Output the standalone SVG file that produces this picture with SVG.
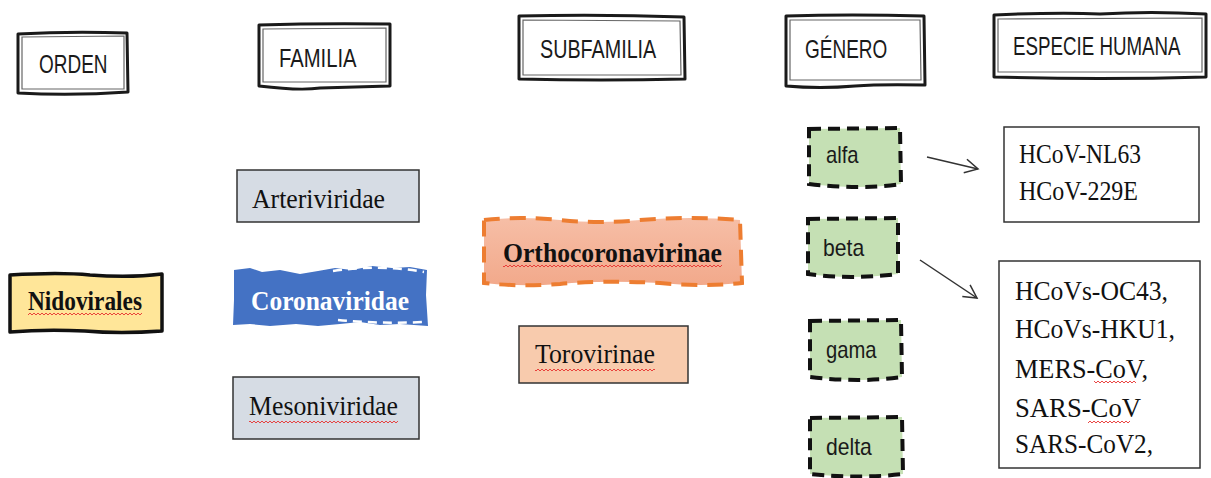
<svg xmlns="http://www.w3.org/2000/svg" width="1211" height="478" viewBox="0 0 1211 478">
<defs>
<style>
.hdr-o{fill:#fff;stroke:#1a1a1a;stroke-width:3;stroke-linejoin:round}
.hdr-i{fill:none;stroke:#666;stroke-width:1.2}
.hdr-t{font-family:"Liberation Sans",Arial,sans-serif;font-size:25px;fill:#1a1a1a}
.gen{fill:#c5e0b4;stroke:#111;stroke-width:4;stroke-dasharray:12 7}
.gen-t{font-family:"Liberation Sans",Arial,sans-serif;font-size:23px;fill:#1a1a1a}
.ser{font-family:"Liberation Serif","Times New Roman",serif;font-size:27px;fill:#111}
.serb{font-family:"Liberation Serif","Times New Roman",serif;font-size:27px;font-weight:bold;fill:#111}
.fam{fill:#d6dce4;stroke:#333;stroke-width:1.5}
.spc{fill:#fff;stroke:#333;stroke-width:1.5}
.conn{stroke:#333;stroke-width:1.5;fill:none}
</style>
<pattern id="sqp" patternUnits="userSpaceOnUse" x="0" y="0" width="4" height="4">
<path d="M0,3 L2,1 L4,3" fill="none" stroke="#e8312f" stroke-width="0.9"/>
</pattern>
<linearGradient id="og" x1="0" y1="0" x2="0" y2="1">
<stop offset="0" stop-color="#f6bea6"/>
<stop offset="1" stop-color="#f2a98b"/>
</linearGradient>
<marker id="arr" markerWidth="16" markerHeight="16" refX="14" refY="8" orient="auto" markerUnits="userSpaceOnUse">
<path d="M1,1 L14,8 L1,15" fill="none" stroke="#333" stroke-width="1.5"/>
</marker>
</defs>

<g id="h-orden">
<path class="hdr-o" d="M18,34 Q70,31 127,33 L128,92 Q72,96 18,93 Z"/>
<path class="hdr-i" d="M22,37 L124,36 L124,89 L22,89 Z"/>
<text class="hdr-t" transform="translate(39,73) scale(0.76,1)">ORDEN</text>
</g>
<g id="h-familia">
<path class="hdr-o" d="M259,25 Q320,23 390,24 L390,86 Q350,87 320,88 Q300,91 259,86 Z"/>
<path class="hdr-i" d="M263,29 L386,28 L386,82 L263,82 Z"/>
<text class="hdr-t" transform="translate(279,67) scale(0.81,1)">FAMILIA</text>
</g>
<g id="h-subfamilia">
<path class="hdr-o" d="M519,16 Q600,14 684,17 L685,79 Q600,81 519,79 Z"/>
<path class="hdr-i" d="M523,20 L680,21 L681,75 L523,75 Z"/>
<text class="hdr-t" transform="translate(540,58) scale(0.79,1)">SUBFAMILIA</text>
</g>
<g id="h-genero">
<path class="hdr-o" d="M786,16 Q850,14 924,16 L925,85 Q880,84 855,86 Q820,89 786,86 Z"/>
<path class="hdr-i" d="M790,20 L920,20 L921,80 L790,80 Z"/>
<text class="hdr-t" transform="translate(805,58) scale(0.76,1)">GÉNERO</text>
</g>
<g id="h-especie">
<path class="hdr-o" d="M994,15 Q1060,12 1100,14 Q1150,11 1206,14 L1206,77 Q1100,80 994,77 Z"/>
<path class="hdr-i" d="M998,19 L1202,18 L1202,72 L998,72 Z"/>
<text class="hdr-t" transform="translate(1013,55) scale(0.75,1)">ESPECIE HUMANA</text>
</g>

<g id="n-nidovirales">
<path d="M10,275 Q60,272 90,275 Q130,278 162,274 L162,331 Q120,334 85,331 Q45,329 10,332 Z" fill="#ffe699" stroke="#111" stroke-width="3.5" stroke-linejoin="round"/>
<text class="serb" x="28" y="310" font-size="25" textLength="114" lengthAdjust="spacingAndGlyphs">Nidovirales</text>
<rect x="28" y="313" width="114" height="4" fill="url(#sqp)"/>
</g>

<g id="n-arteriviridae">
<rect class="fam" x="237" y="170" width="182" height="52"/>
<text class="ser" x="252" y="208" textLength="133" lengthAdjust="spacingAndGlyphs">Arteriviridae</text>
</g>
<g id="n-coronaviridae">
<path d="M234,270 L250,268 L262,272 L280,270 L300,274 L318,271 L335,268 L352,270 L372,266 L392,268 L410,267 L427,270 L426,295 L428,326 L400,324 L380,325 L360,322 L340,324 L318,326 L296,324 L270,326 L250,324 L233,325 L234,300 Z" fill="#4472c4"/>
<path d="M333,271 Q380,264 424,272" fill="none" stroke="#fff" stroke-width="2.5" stroke-dasharray="9 6"/>
<path d="M338,320 Q380,324 424,322" fill="none" stroke="#fff" stroke-width="2.5" stroke-dasharray="9 6"/>
<text class="serb" x="251" y="310" style="fill:#fff" textLength="158" lengthAdjust="spacingAndGlyphs">Coronaviridae</text>
</g>
<g id="n-mesoniviridae">
<rect class="fam" x="233" y="377" width="186" height="62"/>
<text class="ser" x="249" y="415" textLength="149" lengthAdjust="spacingAndGlyphs">Mesoniviridae</text>
<rect x="249" y="419" width="149" height="4" fill="url(#sqp)"/>
</g>

<g id="n-orthocoronavirinae">
<path d="M484,220 Q520,216 560,220 Q600,224 640,220 Q690,216 740,220 L742,283 Q700,287 660,283 Q600,280 560,284 Q520,287 484,283 Z" fill="url(#og)" stroke="#ed7d31" stroke-width="4" stroke-dasharray="16 10"/>
<text class="serb" x="503" y="262" textLength="219" lengthAdjust="spacingAndGlyphs">Orthocoronavirinae</text>
<rect x="503" y="265" width="219" height="4" fill="url(#sqp)"/>
</g>
<g id="n-torovirinae">
<rect x="519" y="326" width="169" height="57" fill="#f8cbad" stroke="#333" stroke-width="1.5"/>
<text class="ser" x="535" y="363" textLength="120" lengthAdjust="spacingAndGlyphs">Torovirinae</text>
<rect x="535" y="367" width="120" height="4" fill="url(#sqp)"/>
</g>

<g id="n-alfa">
<path class="gen" d="M809,129 L900,128 L901,184 Q860,190 809,184 Z"/>
<text class="gen-t" transform="translate(826,163) scale(0.88,1)">alfa</text>
</g>
<g id="n-beta">
<path class="gen" d="M808,219 L898,218 L898,274 Q850,280 808,274 Z"/>
<text class="gen-t" transform="translate(823,256) scale(0.92,1)">beta</text>
</g>
<g id="n-gama">
<path class="gen" d="M810,321 L901,320 L902,377 Q860,383 810,377 Z"/>
<text class="gen-t" transform="translate(826,358) scale(0.88,1)">gama</text>
</g>
<g id="n-delta">
<path class="gen" d="M810,418 L902,417 L903,474 Q860,479 810,474 Z"/>
<text class="gen-t" transform="translate(826,455) scale(0.92,1)">delta</text>
</g>

<g id="n-species-alfa">
<rect class="spc" x="1004" y="127" width="195" height="95"/>
<text class="ser" x="1019" y="163" font-size="24" textLength="122" lengthAdjust="spacingAndGlyphs">HCoV-NL63</text>
<text class="ser" x="1019" y="200" font-size="24" textLength="119" lengthAdjust="spacingAndGlyphs">HCoV-229E</text>
</g>
<g id="n-species-beta">
<rect class="spc" x="999" y="261" width="201" height="207"/>
<text class="ser" x="1015" y="300" textLength="153" lengthAdjust="spacingAndGlyphs">HCoVs-OC43,</text>
<text class="ser" x="1015" y="338" textLength="160" lengthAdjust="spacingAndGlyphs">HCoVs-HKU1,</text>
<text class="ser" x="1015" y="378" textLength="133" lengthAdjust="spacingAndGlyphs">MERS-CoV,</text>
<rect x="1094" y="381" width="42" height="4" fill="url(#sqp)"/>
<text class="ser" x="1015" y="417" textLength="126" lengthAdjust="spacingAndGlyphs">SARS-CoV</text>
<rect x="1088" y="420" width="42" height="4" fill="url(#sqp)"/>
<text class="ser" x="1015" y="453" textLength="138" lengthAdjust="spacingAndGlyphs">SARS-CoV2,</text>
</g>

<g id="connectors">
<line class="conn" x1="927" y1="157" x2="978" y2="169" marker-end="url(#arr)"/>
<line class="conn" x1="920" y1="260" x2="977" y2="298" marker-end="url(#arr)"/>
</g>
</svg>
